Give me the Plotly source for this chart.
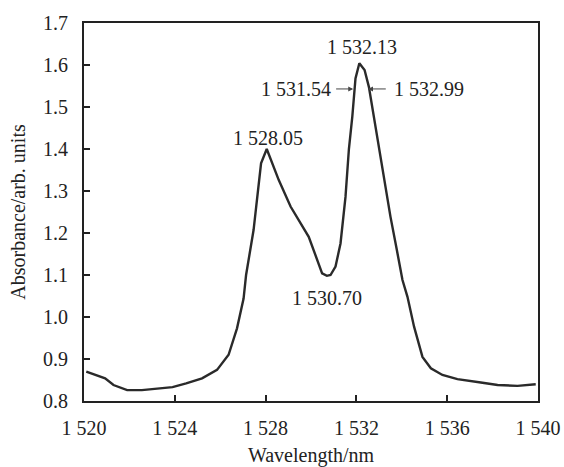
import plotly.graph_objects as go

wavelength = [1520.1, 1520.93, 1521.3, 1521.9, 1522.55, 1523.9, 1524.5, 1525.2, 1525.86,
              1526.37, 1526.74, 1527.03, 1527.14, 1527.33, 1527.47, 1527.8, 1528.05,
              1528.58, 1529.1, 1529.9, 1530.49, 1530.7, 1530.86, 1531.08, 1531.3,
              1531.52, 1531.67, 1531.82, 1531.96, 1532.13, 1532.36, 1532.55, 1532.77,
              1532.92, 1533.2, 1533.5, 1533.78, 1534.03, 1534.25, 1534.54, 1534.91,
              1535.28, 1535.79, 1536.45, 1537.48, 1538.22, 1539.1, 1539.9]
absorbance = [0.870, 0.854, 0.838, 0.826, 0.826, 0.833, 0.842, 0.854, 0.874,
              0.910, 0.973, 1.044, 1.100, 1.160, 1.207, 1.366, 1.400,
              1.326, 1.263, 1.191, 1.104, 1.098, 1.100, 1.120, 1.175,
              1.286, 1.400, 1.477, 1.568, 1.604, 1.588, 1.548, 1.477,
              1.429, 1.334, 1.239, 1.160, 1.088, 1.048, 0.977, 0.905,
              0.878, 0.862, 0.852, 0.844, 0.838, 0.836, 0.840]

x_tickvals = [1520, 1524, 1528, 1532, 1536, 1540]
x_ticktext = ["1 520", "1 524", "1 528", "1 532", "1 536", "1 540"]
y_tickvals = [0.8, 0.9, 1.0, 1.1, 1.2, 1.3, 1.4, 1.5, 1.6, 1.7]
y_ticktext = ["0.8", "0.9", "1.0", "1.1", "1.2", "1.3", "1.4", "1.5", "1.6", "1.7"]

FONT = "Liberation Serif, Times New Roman, serif"
INK = "#222222"
FS = 20

fig = go.Figure()
fig.add_trace(go.Scatter(x=wavelength, y=absorbance, mode="lines",
                         line=dict(color="#2a2a2a", width=2.4), showlegend=False,
                         hoverinfo="skip"))

labels = [
    dict(x=1532.26, y=1.643, text="1 532.13", xanchor="center"),
    dict(x=1528.12, y=1.426, text="1 528.05", xanchor="center"),
    dict(x=1530.72, y=1.045, text="1 530.70", xanchor="center"),
    dict(x=1530.95, y=1.543, text="1 531.54", xanchor="right"),
    dict(x=1533.55, y=1.543, text="1 532.99", xanchor="left"),
]
annotations = []
for lb in labels:
    annotations.append(dict(x=lb["x"], y=lb["y"], text=lb["text"], xanchor=lb["xanchor"],
                            yanchor="middle", showarrow=False,
                            font=dict(family=FONT, size=FS, color=INK)))
# FWHM arrows
annotations.append(dict(x=1531.86, y=1.543, ax=1531.04, ay=1.543, axref="x", ayref="y",
                        xref="x", yref="y", text="", showarrow=True, arrowhead=2,
                        arrowsize=1, arrowwidth=1, arrowcolor="#444444"))
annotations.append(dict(x=1532.51, y=1.543, ax=1533.36, ay=1.543, axref="x", ayref="y",
                        xref="x", yref="y", text="", showarrow=True, arrowhead=2,
                        arrowsize=1, arrowwidth=1, arrowcolor="#444444"))

fig.update_layout(
    width=564, height=467,
    margin=dict(l=84, r=26, t=23, b=66),
    paper_bgcolor="white", plot_bgcolor="white",
    font=dict(family=FONT, size=FS, color=INK),
    annotations=annotations,
    xaxis=dict(range=[1520, 1540], tickvals=x_tickvals, ticktext=x_ticktext,
               ticks="inside", ticklen=6, tickwidth=1.5, tickcolor=INK,
               showline=True, linecolor=INK, linewidth=2, mirror=True,
               showgrid=False, zeroline=False, automargin=False, ticklabelstandoff=8,
               title=dict(text="Wavelength/nm", font=dict(family=FONT, size=FS), standoff=19),
               tickfont=dict(family=FONT, size=FS)),
    yaxis=dict(range=[0.8, 1.7], tickvals=y_tickvals, ticktext=y_ticktext,
               ticks="inside", ticklen=6, tickwidth=1.5, tickcolor=INK,
               showline=True, linecolor=INK, linewidth=2, mirror=True,
               showgrid=False, zeroline=False, ticklabelstandoff=10, automargin=False,
               title=dict(text="Absorbance/arb. units", font=dict(family=FONT, size=FS), standoff=12),
               tickfont=dict(family=FONT, size=FS)),
)

fig.write_html("out.html", config={"displayModeBar": False},
               post_script="document.body.style.margin='0';document.body.style.overflow='hidden';")
